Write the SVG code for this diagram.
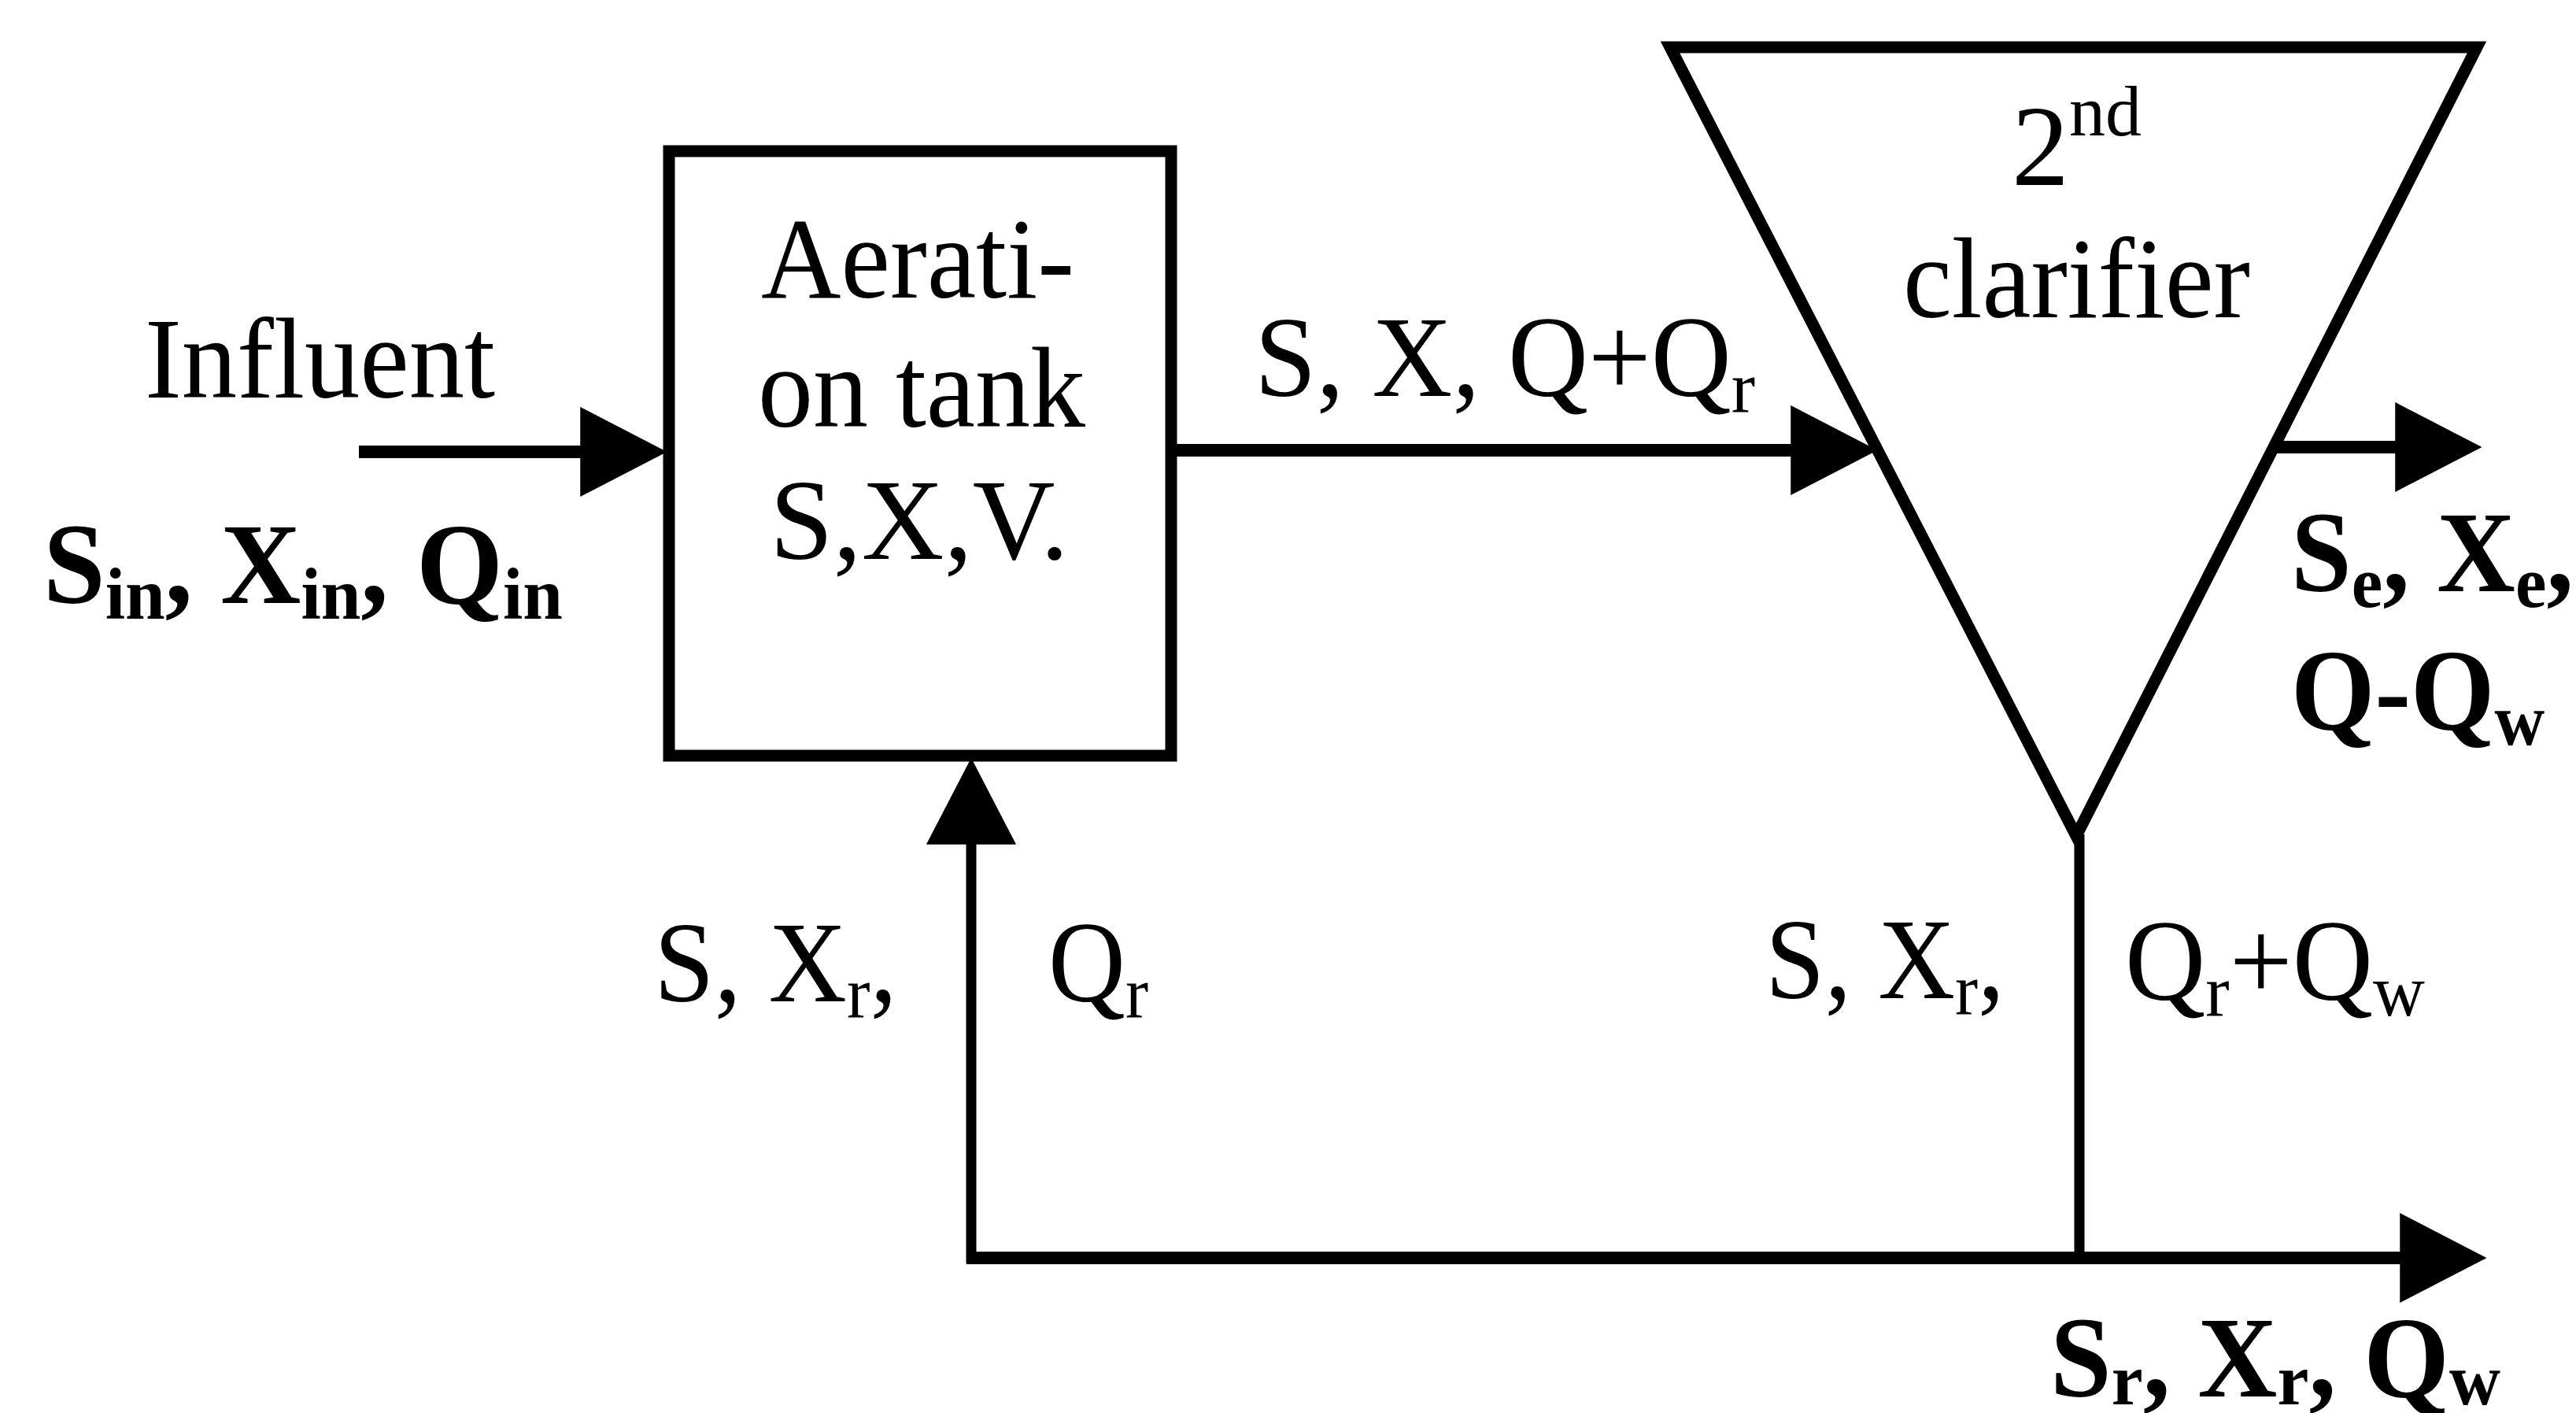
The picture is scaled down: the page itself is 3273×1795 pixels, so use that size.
<svg xmlns="http://www.w3.org/2000/svg" width="3273" height="1795" viewBox="0 0 3273 1795">
<style>
.t{font-family:"Liberation Serif","Times New Roman",serif;font-size:146px;fill:#000}
.b{font-weight:bold}
.sub{font-size:94px}
.line{stroke:#000;fill:none}
.thick{stroke-width:16}
.thin{stroke-width:13}
.shape{fill:#fff;stroke:#000;stroke-width:15;stroke-linejoin:miter}
</style>
<defs>
<marker id="arr" markerUnits="userSpaceOnUse" markerWidth="110" markerHeight="115" viewBox="0 0 106 110" refX="20" refY="55" orient="auto">
<path d="M0,0 L106,55 L0,110 z" fill="#000"/>
</marker>
</defs>
<rect width="3273" height="1795" fill="#fff"/>
<g id="connectors">
<line class="line thick" x1="456" y1="574" x2="758" y2="574" marker-end="url(#arr)"/>
<line class="line thick" x1="1488" y1="572" x2="2296" y2="572" marker-end="url(#arr)"/>
<line class="line thick" x1="2889" y1="568" x2="3064" y2="568" marker-end="url(#arr)"/>
<line class="line thin" x1="2642" y1="1060" x2="2642" y2="1598"/>
<line class="line thick" x1="1228" y1="1598" x2="3070" y2="1598" marker-end="url(#arr)"/>
<line class="line thin" x1="1234" y1="1605" x2="1234" y2="1052" marker-end="url(#arr)"/>
</g>
<g id="aeration-tank">
<rect class="shape" x="850" y="192" width="638" height="768"/>
<text class="t" x="967" y="378" textLength="398" lengthAdjust="spacingAndGlyphs">Aerati-</text>
<text class="t" x="963" y="542" textLength="416" lengthAdjust="spacingAndGlyphs">on tank</text>
<text class="t" x="978" y="710" textLength="380" lengthAdjust="spacingAndGlyphs">S,X,V.</text>
</g>
<g id="clarifier">
<polygon class="shape" points="2122,60 3147,60 2638,1062"/>
<text class="t" x="2556" y="235">2<tspan font-size="92" dy="-63">nd</tspan></text>
<text class="t" x="2418" y="403" textLength="441" lengthAdjust="spacingAndGlyphs">clarifier</text>
</g>
<g id="labels">
<text class="t" x="184" y="505" textLength="445" lengthAdjust="spacingAndGlyphs">Influent</text>
<text class="t b" x="55" y="766" textLength="660" lengthAdjust="spacingAndGlyphs">S<tspan class="sub" dy="20">in</tspan><tspan dy="-20">, X</tspan><tspan class="sub" dy="20">in</tspan><tspan dy="-20">, Q</tspan><tspan class="sub" dy="20">in</tspan></text>
<text class="t" x="1594" y="503" textLength="636" lengthAdjust="spacingAndGlyphs">S, X, Q+Q<tspan class="sub" dy="20">r</tspan></text>
<text class="t b" x="2911" y="751" textLength="359" lengthAdjust="spacingAndGlyphs">S<tspan class="sub" dy="20">e</tspan><tspan dy="-20">, X</tspan><tspan class="sub" dy="20">e</tspan><tspan dy="-20">,</tspan></text>
<text class="t b" x="2911" y="926" textLength="322" lengthAdjust="spacingAndGlyphs">Q-Q<tspan class="sub" dy="20">w</tspan></text>
<text class="t" x="831" y="1272" textLength="309" lengthAdjust="spacingAndGlyphs">S, X<tspan class="sub" dy="20">r</tspan><tspan dy="-20">,</tspan></text>
<text class="t" x="1332" y="1272" textLength="127" lengthAdjust="spacingAndGlyphs">Q<tspan class="sub" dy="20">r</tspan></text>
<text class="t" x="2243" y="1268" textLength="304" lengthAdjust="spacingAndGlyphs">S, X<tspan class="sub" dy="20">r</tspan><tspan dy="-20">,</tspan></text>
<text class="t" x="2700" y="1270" textLength="381" lengthAdjust="spacingAndGlyphs">Q<tspan class="sub" dy="20">r</tspan><tspan dy="-20">+Q</tspan><tspan class="sub" dy="20">w</tspan></text>
<text class="t b" x="2605" y="1774" textLength="572" lengthAdjust="spacingAndGlyphs">S<tspan class="sub" dy="10">r</tspan><tspan dy="-10">, X</tspan><tspan class="sub" dy="10">r</tspan><tspan dy="-10">, Q</tspan><tspan class="sub" dy="10">w</tspan></text>
</g>
</svg>
